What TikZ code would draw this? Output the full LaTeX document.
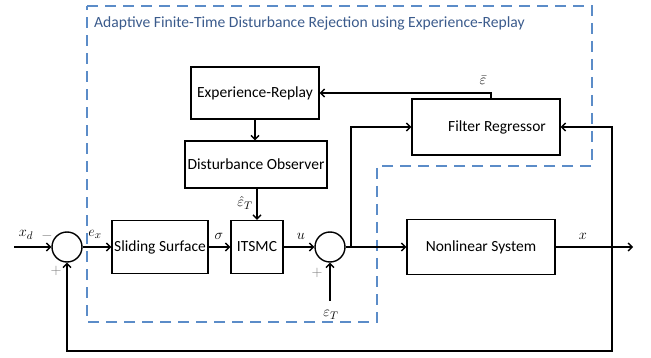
\documentclass[tikz,border=0pt]{standalone}
\usepackage{fontspec}
\setmainfont{Carlito}
\usetikzlibrary{arrows.meta}
\definecolor{dashblue}{HTML}{5B8CC8}
\definecolor{titleblue}{HTML}{3B5B8C}
\definecolor{signgray}{HTML}{7A7A7A}
\begin{document}
\begin{tikzpicture}[x=1pt,y=-1pt,
  blockbox/.style={draw=black, line width=1.4pt, inner sep=0pt, font=\fontsize{15.5}{17}\selectfont},
  sumnode/.style={draw=black, line width=1.4pt, circle, minimum size=30pt, inner sep=0pt},
  arr/.style={draw=black, line width=1.4pt, -{Straight Barb[length=4pt,width=8pt]}},
  mlabel/.style={font=\fontsize{15}{17}\selectfont, inner sep=1pt},
  sign/.style={text=signgray, font=\fontsize{14}{16}\selectfont, inner sep=0pt},
  region/.style={draw=dashblue, line width=1.8pt, dash pattern=on 11pt off 7pt}
]
\useasboundingbox (0,0) rectangle (651,358);

% region boundary
\draw[region] (87,6) -- (592,6) -- (592,166) -- (377,166) -- (377,322) -- (87,322) -- cycle;
\node[anchor=west, text=titleblue, font=\fontsize{15.6}{17}\selectfont, inner sep=0pt] (title) at (94,23) {Adaptive Finite-Time Disturbance Rejection using Experience-Replay};

% blocks
\node[blockbox, minimum width=128pt, minimum height=52pt] (er) at (255,93) {Experience-Replay};
\node[blockbox, minimum width=142pt, minimum height=47pt] (do) at (256,164.5) {Disturbance Observer};
\node[blockbox, minimum width=148pt, minimum height=56pt] (fr) at (486,127) {};
\node[font=\fontsize{15.5}{17}\selectfont, inner sep=0pt] (frtext) at (497,127) {Filter Regressor};
\node[blockbox, minimum width=96pt, minimum height=53pt] (ss) at (160,247) {Sliding Surface};
\node[blockbox, minimum width=52pt, minimum height=53pt] (it) at (257,247) {ITSMC};
\node[blockbox, minimum width=148pt, minimum height=55pt] (ns) at (481,247) {Nonlinear System};

\node[sumnode] (s1) at (67,247) {};
\node[sumnode] (s2) at (330,247) {};

% coordinates
\coordinate (in) at (14,247);
\coordinate (j) at (351,247);
\coordinate (out) at (633,247);
\coordinate (fb) at (612,247);
\coordinate (fbl) at (612,351);
\coordinate (ebar) at (491,93);
\coordinate (et) at (330,301);

% connectors
\draw[arr] (in) -- (s1.west);
\draw[arr] (s1.east) -- (ss.west);
\draw[arr] (ss.east) -- (it.west);
\draw[arr] (it.east) -- (s2.west);
\draw[arr] (s2.east) -- (ns.west);
\draw[arr] (j) |- (fr.west);
\draw[arr] (ns.east) -- (out);
\draw[arr] (fb) |- (fr.east);
\draw[arr] (fb) -- (fbl) -| (s1.south);
\draw[arr] (ebar |- fr.north) -- (ebar) -- (er.east);
\draw[arr] (er.south) -- (er.south |- do.north);
\draw[arr] (it.north |- do.south) -- (it.north);
\draw[arr] (et) -- (s2.south);

% labels
\node[mlabel] (lxd) at (26,235) {$x_d$};
\node[sign] (lminus) at (47,236) {$-$};
\node[sign] (lplus1) at (56,271) {$+$};
\node[mlabel] (lex) at (95,234) {$e_x$};
\node[mlabel] (lsig) at (219,236) {$\sigma$};
\node[mlabel] (lu) at (301,236) {$u$};
\node[mlabel] (lehat) at (245,203) {$\hat{\varepsilon}_T$};
\node[mlabel] (lebar) at (483,80) {$\bar{\varepsilon}$};
\node[sign] (lplus2) at (317,273) {$+$};
\node[mlabel] (let) at (331,315) {$\varepsilon_T$};
\node[mlabel] (lx) at (583,236) {$x$};
\end{tikzpicture}
\end{document}
